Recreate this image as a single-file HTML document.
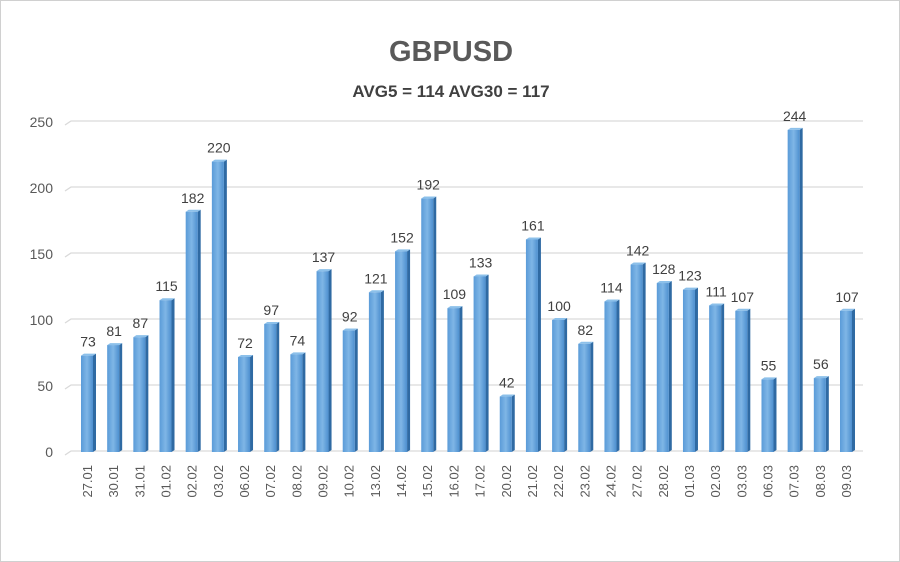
<!DOCTYPE html>
<html><head><meta charset="utf-8"><style>
html,body{margin:0;padding:0;background:#fff}
#wrap{width:900px;height:562px;position:relative;box-sizing:border-box;border:1px solid #d0d0d0;overflow:hidden}
text{font-family:"Liberation Sans",sans-serif}
</style></head><body>
<div id="wrap">
<svg id="chart" width="900" height="562">
<defs>
<linearGradient id="gf" x1="0" x2="1" y1="0" y2="0">
<stop offset="0" stop-color="#5a9bd8"/><stop offset="0.5" stop-color="#7fb6e6"/><stop offset="1" stop-color="#4d8fcf"/>
</linearGradient>
</defs>
<text x="450" y="60" text-anchor="middle" font-size="29" font-weight="bold" fill="#595959">GBPUSD</text>
<text x="450" y="96" text-anchor="middle" font-size="17" font-weight="bold" fill="#404040">AVG5 = 114 AVG30 = 117</text>
<g id="grid"></g><g id="bars"></g>
</svg></div>
<script>
const categories=["27.01","30.01","31.01","01.02","02.02","03.02","06.02","07.02","08.02","09.02","10.02","13.02","14.02","15.02","16.02","17.02","20.02","21.02","22.02","23.02","24.02","27.02","28.02","01.03","02.03","03.03","06.03","07.03","08.03","09.03"];
const values=[73,81,87,115,182,220,72,97,74,137,92,121,152,192,109,133,42,161,100,82,114,142,128,123,111,107,55,244,56,107];
const yTicks=[0,50,100,150,200,250];
const NS="http://www.w3.org/2000/svg";
const x0=86,x1=845,yBase=451,pxPer=1.32,bw=12;
const n=categories.length;
const step=(x1-x0)/(n-1);
function xs(i){return x0+i*step;}
function ys(v){return yBase-v*pxPer;}
function mk(t,a,p){const e=document.createElementNS(NS,t);for(const k in a)e.setAttribute(k,a[k]);p.appendChild(e);return e;}
const grid=document.getElementById('grid'),bars=document.getElementById('bars');
yTicks.forEach(v=>{
 const y=ys(v)-1;
 const l=mk('path',{d:`M64 ${y+4} L70 ${y} L862 ${y}`,stroke:'#d9d9d9','stroke-width':1.3,fill:'none'},grid);
 
 
 const t=mk('text',{x:52,y:y+6,'text-anchor':'end','font-size':14,fill:'#595959'},grid);
 t.textContent=v;
 
 
});
categories.forEach((c,i)=>{
 const cx=xs(i),v=values[i],top=ys(v),left=cx-bw/2;
 const g=mk('g',{},bars);
 
 
 mk('path',{d:`M${left+bw} ${top} L${left+bw+3} ${top-2} L${left+bw+3} ${yBase-2} L${left+bw} ${yBase} Z`,fill:'#2f6aa3'},g);
 mk('path',{d:`M${left} ${top} L${left+3} ${top-2} L${left+bw+3} ${top-2} L${left+bw} ${top} Z`,fill:'#8cc0ea'},g);
 mk('rect',{x:left,y:top,width:bw,height:yBase-top,fill:'url(#gf)'},g);
 const t=mk('text',{x:cx+1,y:top-9,'text-anchor':'middle','font-size':14,fill:'#404040'},g);
 t.textContent=v;
 
 
 const xl=mk('text',{x:0,y:0,'text-anchor':'end','font-size':13,fill:'#595959',transform:`translate(${cx+5},464) rotate(-90)`},bars);
 xl.textContent=c;
 
 
});
</script>
</body></html>
